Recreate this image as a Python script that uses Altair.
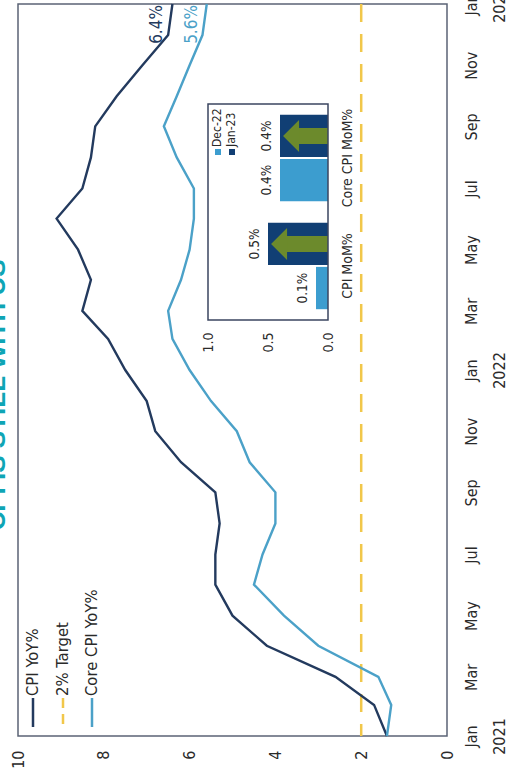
import altair as alt
import pandas as pd

# ---- data -------------------------------------------------------------
months = pd.date_range("2021-01-01", "2023-01-01", freq="MS").strftime("%Y-%m-%d").tolist()
cpi_yoy = [1.4, 1.7, 2.6, 4.2, 5.0, 5.4, 5.4, 5.3, 5.4, 6.2, 6.8, 7.0,
           7.5, 7.9, 8.5, 8.3, 8.6, 9.1, 8.5, 8.3, 8.2, 7.7, 7.1, 6.5, 6.4]
core_yoy = [1.4, 1.3, 1.6, 3.0, 3.8, 4.5, 4.3, 4.0, 4.0, 4.6, 4.9, 5.5,
            6.0, 6.4, 6.5, 6.2, 6.0, 5.9, 5.9, 6.3, 6.6, 6.3, 6.0, 5.7, 5.6]
target = 2.0

mom_categories = ["CPI MoM%", "Core CPI MoM%"]
mom_dec22 = [0.1, 0.4]
mom_jan23 = [0.5, 0.4]

headline = "CPI IS STILL WITH US"

# ---- style ------------------------------------------------------------
NAVY = "#233a5e"
LIGHT = "#4ba1c8"
GOLD = "#f1c74a"
BAR_DEC = "#3c9dcf"
BAR_JAN = "#113f74"
OLIVE = "#6c8a2c"
FRAME = "#5b6375"
TEAL = "#0fa5b5"
INK = "#2a2a2a"
FONT = "Liberation Sans Narrow, Arial Narrow, DejaVu Sans Condensed, Liberation Sans, sans-serif"

W, H = 429, 732
# inset panel box inside the main plot area (pixels)
IN_X0, IN_X1 = 190, 310
IN_Y0, IN_Y1 = 100, 316

# ---- tables -------------------------------------------------------------
lines_df = pd.DataFrame({
    "date": months * 2,
    "series": ["CPI YoY%"] * len(months) + ["Core CPI YoY%"] * len(months),
    "value": cpi_yoy + core_yoy,
})
ends_df = pd.DataFrame({
    "date": [months[-1], months[-1]],
    "series": ["CPI YoY%", "Core CPI YoY%"],
    "value": [cpi_yoy[-1], core_yoy[-1]],
})
target_df = pd.DataFrame({"value": [target]})

mom_df = pd.DataFrame({
    "cat": mom_categories * 2,
    "series": ["Dec-22"] * len(mom_categories) + ["Jan-23"] * len(mom_categories),
    "value": mom_dec22 + mom_jan23,
})
arrow_df = pd.DataFrame({
    "cat": mom_categories,
    "series": ["Jan-23"] * len(mom_categories),
    "value": mom_jan23,
})
one = pd.DataFrame({"k": [0]})


def dt(y, m):
    return alt.DateTime(year=y, month=m, date=1, utc=True)


tick_dates = [dt(2021 + (i // 12), (i % 12) + 1) for i in range(0, 25, 2)]

# ---- main panel encodings ----------------------------------------------
x_main = alt.X(
    "value:Q",
    scale=alt.Scale(domain=[0, 10], reverse=True, nice=False),
    axis=alt.Axis(values=[0, 2, 4, 6, 8, 10], labelAngle=270, labelAlign="right",
                  labelBaseline="middle", ticks=False, tickSize=0, domain=False,
                  grid=False, title=None, labelPadding=14, labelFontSize=16,
                  labelColor=INK, labelFlush=False, labelOverlap=False),
)
y_main = alt.Y(
    "date:T",
    scale=alt.Scale(type="utc", domain=[dt(2021, 1), dt(2023, 1)], nice=False),
    axis=alt.Axis(orient="right", values=tick_dates,
                  labelExpr="utcFormat(datum.value, '%m') == '01' ? [utcFormat(datum.value, '%b'), utcFormat(datum.value, '%Y')] : utcFormat(datum.value, '%b')",
                  labelAngle=270, labelAlign="center", labelBaseline="top",
                  ticks=False, tickSize=0, domain=False, grid=False, title=None,
                  labelPadding=16, labelFontSize=16, labelLineHeight=28,
                  labelColor=INK, labelFlush=False, labelOverlap=False),
)
series_color = alt.Color("series:N",
                         scale=alt.Scale(domain=["CPI YoY%", "Core CPI YoY%"], range=[NAVY, LIGHT]),
                         legend=None)

lines = alt.Chart(lines_df).mark_line(strokeWidth=2.4).encode(
    x=x_main, y=y_main, color=series_color, order="date:T"
)
target_rule = alt.Chart(target_df).mark_rule(color=GOLD, strokeWidth=2.5, strokeDash=[18, 12]).encode(
    x=x_main
)
end_labels = alt.Chart(ends_df).transform_calculate(
    label="format(datum.value, '.1f') + '%'"
).mark_text(angle=270, align="right", baseline="bottom", dy=-6, dx=-1, fontSize=17).encode(
    x=x_main, y=y_main, text="label:N", color=series_color
)

# legend of the main panel
def legend_entry(label, xpos, color, dash=None):
    rule_kw = dict(color=color, strokeWidth=2.5)
    if dash:
        rule_kw["strokeDash"] = dash
    sym = alt.Chart(one).mark_rule(**rule_kw).encode(
        x=alt.value(xpos), y=alt.value(694), y2=alt.value(723)
    )
    txt = alt.Chart(one).mark_text(text=label, angle=270, align="left", baseline="middle",
                                   fontSize=16.5, color=INK).encode(
        x=alt.value(xpos), y=alt.value(692)
    )
    return sym + txt


legend = (legend_entry("CPI YoY%", 15, NAVY)
          + legend_entry("2% Target", 45, GOLD, [10, 6])
          + legend_entry("Core CPI YoY%", 74, LIGHT))

title_txt = alt.Chart(one).mark_text(text=headline, angle=270, align="center", baseline="alphabetic",
                                     fontSize=26, fontWeight="bold", color=TEAL,
                                     font="Liberation Sans, sans-serif").encode(
    x=alt.value(-13), y=alt.value(391)
)

main = alt.layer(target_rule, lines, end_labels, legend, title_txt)

# ---- inset panel encodings ---------------------------------------------
x_in = alt.X(
    "value:Q",
    scale=alt.Scale(domain=[0, 1], range=[IN_X1, IN_X0], nice=False),
    axis=alt.Axis(orient="bottom", offset=IN_Y1 - H, values=[0, 0.5, 1], format=".1f",
                  labelAngle=270, labelAlign="right", labelBaseline="middle",
                  ticks=False, tickSize=0, domain=False, grid=False, title=None,
                  labelPadding=12, labelFontSize=14, labelColor=INK,
                  labelFlush=False, labelOverlap=False),
)
y_in = alt.Y(
    "cat:N",
    sort=["Core CPI MoM%", "CPI MoM%"],
    scale=alt.Scale(domain=["Core CPI MoM%", "CPI MoM%"], range=[IN_Y0, IN_Y1],
                    paddingInner=0.2, paddingOuter=0.1),
    axis=alt.Axis(orient="right", offset=IN_X1 - W, labelAngle=270, labelAlign="center",
                  labelBaseline="top", ticks=False, tickSize=0, domain=False, grid=False,
                  title=None, labelPadding=12, labelFontSize=14, labelColor=INK,
                  labelOverlap=False),
)
yo_in = alt.YOffset("series:N", scale=alt.Scale(domain=["Jan-23", "Dec-22"], paddingInner=0.04))
bar_color = alt.Color("series:N", scale=alt.Scale(domain=["Dec-22", "Jan-23"], range=[BAR_DEC, BAR_JAN]),
                      legend=None)

bars = alt.Chart(mom_df).mark_bar().encode(x=x_in, y=y_in, yOffset=yo_in, color=bar_color)

# arrows inside the Jan-23 bars: tip just short of the bar end, shaft back to zero
arrows = alt.Chart(arrow_df).transform_calculate(
    tip="datum.value - 0.025",
    head="datum.tip - 0.067",
    shaft="datum.tip - 0.1",
)
shafts = arrows.mark_bar(height=16, color=OLIVE).encode(
    x=alt.X("shaft:Q"), y=y_in, yOffset=yo_in
)
heads = arrows.mark_point(shape="M-0.5,0L0.5,-1L0.5,1Z", size=1024, filled=True,
                          color=OLIVE, opacity=1, strokeWidth=0).encode(
    x=alt.X("head:Q"), y=y_in, yOffset=yo_in
)

bar_labels = alt.Chart(mom_df).transform_calculate(
    label="format(datum.value, '.1f') + '%'"
).mark_text(angle=270, align="center", baseline="bottom", dy=-6, fontSize=13.5, color=INK).encode(
    x=x_in, y=y_in, yOffset=yo_in, text="label:N"
)

frame = alt.Chart(one).mark_rect(fillOpacity=0, stroke="#3b4660", strokeWidth=1.5).encode(
    x=alt.value(IN_X0), x2=alt.value(IN_X1), y=alt.value(IN_Y0), y2=alt.value(IN_Y1)
)


def inset_key(label, xpos, color):
    sw = alt.Chart(one).mark_square(size=36, color=color, opacity=1).encode(
        x=alt.value(xpos + 1), y=alt.value(148)
    )
    txt = alt.Chart(one).mark_text(text=label, angle=270, align="left", baseline="middle",
                                   fontSize=12, color=INK).encode(
        x=alt.value(xpos), y=alt.value(143)
    )
    return sw + txt


inset = alt.layer(bars, shafts, heads, bar_labels, frame,
                  inset_key("Dec-22", 199, BAR_DEC), inset_key("Jan-23", 213, BAR_JAN))

chart = alt.layer(main, inset).resolve_scale(
    x="independent", y="independent", color="independent"
).properties(
    width=W, height=H,
    autosize=alt.AutoSizeParams(type="none"),
    padding={"left": 18, "top": 4, "right": 60, "bottom": 48},
    background="white",
).configure(font=FONT).configure_view(stroke=FRAME, strokeWidth=1.5)

chart.save("out.html", embed_options={"renderer": "svg", "actions": False})
